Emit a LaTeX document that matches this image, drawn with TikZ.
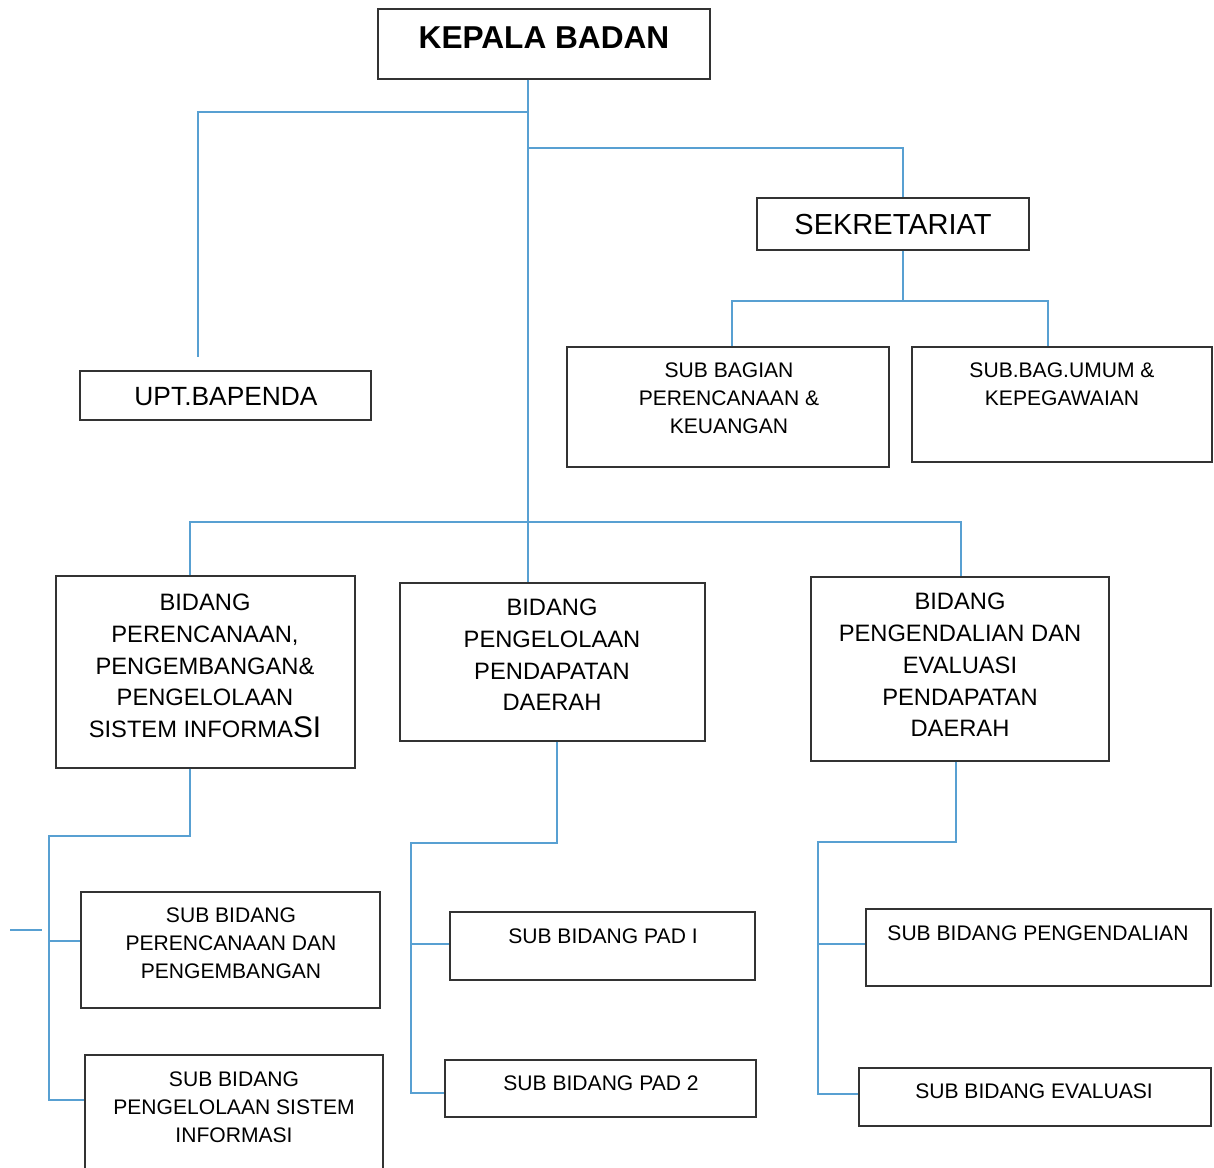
\documentclass[tikz,border=0pt]{standalone}
\usepackage{fontspec}
\setmainfont{Liberation Sans}
\usetikzlibrary{fit}

\definecolor{lineblue}{RGB}{88,160,210}
\newcommand\fhead{\fontsize{18}{22}\selectfont\bfseries}
\newcommand\fsek{\fontsize{16.5}{20}\selectfont}
\newcommand\fupt{\fontsize{15}{18}\selectfont}
\newcommand\fbid{\fontsize{13.5}{18.1}\selectfont}
\newcommand\fsub{\fontsize{12}{15.9}\selectfont}

\tikzset{
  box/.style={draw=black!80, line width=0.8pt, inner sep=0pt},
  link/.style={draw=lineblue, line width=1.1pt},
  lbl/.style={align=center, inner sep=0pt},
}

\begin{document}
\begin{tikzpicture}[x=0.02cm, y=-0.02cm]
\useasboundingbox (0,0) rectangle (1214,1168);
\clip (0,0) rectangle (1214,1168);

% Boxes
\node[box, fit={(378,9) (710,79)}] (kepala) {};
\node[box, fit={(757,198) (1029,250)}] (sekr) {};
\node[box, fit={(80,371) (371,420)}] (upt) {};
\node[box, fit={(567,347) (889,467)}] (sbperen) {};
\node[box, fit={(912,347) (1212,462)}] (sbumum) {};
\node[box, fit={(56,576) (355,768)}] (bperen) {};
\node[box, fit={(400,583) (705,741)}] (bpend) {};
\node[box, fit={(811,577) (1109,761)}] (bkend) {};
\node[box, fit={(81,892) (380,1008)}] (sbrenc) {};
\node[box, fit={(85,1055) (383,1185)}] (sbsis) {};
\node[box, fit={(450,912) (755,980)}] (pad1) {};
\node[box, fit={(445,1060) (756,1117)}] (pad2) {};
\node[box, fit={(866,909) (1211,986)}] (sbpeng) {};
\node[box, fit={(859,1068) (1211,1126)}] (sbeval) {};

% Labels
\node[lbl, font=\fhead] (kepala-t) at (544,38) {KEPALA BADAN};
\node[lbl, font=\fsek] (sekr-t) at (893,225) {SEKRETARIAT};
\node[lbl, font=\fupt] (upt-t) at (226,397) {UPT.BAPENDA};
\node[lbl, font=\fsub] (sbperen-t) at (729,398) {SUB BAGIAN\\PERENCANAAN \&\\KEUANGAN};
\node[lbl, font=\fsub] (sbumum-t) at (1062,384) {SUB.BAG.UMUM \&\\KEPEGAWAIAN};
\node[lbl, font=\fbid] (bperen-t) at (205,666) {BIDANG\\PERENCANAAN,\\PENGEMBANGAN\&\\PENGELOLAAN\\SISTEM INFORMA{\fontsize{17}{20}\selectfont SI}};
\node[lbl, font=\fbid] (bpend-t) at (552,655) {BIDANG\\PENGELOLAAN\\PENDAPATAN\\DAERAH};
\node[lbl, font=\fbid] (bkend-t) at (960,665) {BIDANG\\PENGENDALIAN DAN\\EVALUASI\\PENDAPATAN\\DAERAH};
\node[lbl, font=\fsub] (sbrenc-t) at (231,943) {SUB BIDANG\\PERENCANAAN DAN\\PENGEMBANGAN};
\node[lbl, font=\fsub] (sbsis-t) at (234,1107) {SUB BIDANG\\PENGELOLAAN SISTEM\\INFORMASI};
\node[lbl, font=\fsub] (pad1-t) at (603,936) {SUB BIDANG PAD I};
\node[lbl, font=\fsub] (pad2-t) at (601,1083) {SUB BIDANG PAD 2};
\node[lbl, font=\fsub] (sbpeng-t) at (1038,933) {SUB BIDANG PENGENDALIAN};
\node[lbl, font=\fsub] (sbeval-t) at (1034,1091) {SUB BIDANG EVALUASI};

% Junctions
\coordinate (t1) at (528,112);
\coordinate (t2) at (528,148);
\coordinate (u1) at (198,112);
\coordinate (s1) at (903,148);
\coordinate (s2) at (903,301);
\coordinate (s3) at (732,301);
\coordinate (s4) at (1048,301);
\coordinate (b1) at (190,522);
\coordinate (b2) at (961,522);
\coordinate (l1) at (190,836);
\coordinate (l2) at (49,836);
\coordinate (l3) at (49,1100);
\coordinate (l4) at (49,941);
\coordinate (stub) at (10,930);
\coordinate (m1) at (557,843);
\coordinate (m2) at (411,843);
\coordinate (m3) at (411,1093);
\coordinate (m4) at (411,944);
\coordinate (r1) at (956,842);
\coordinate (r2) at (818,842);
\coordinate (r3) at (818,1094);
\coordinate (r4) at (818,944);

% Connectors
\draw[link] (kepala.south -| t1) -- (t1 |- bpend.north);
\draw[link, shorten >=0.26cm] (t1) -- (u1) -- (u1 |- upt.north);
\draw[link] (t2) -- (s1) -- (s1 |- sekr.north);
\draw[link] (sekr.south -| s2) -- (s2);
\draw[link] (s3 |- sbperen.north) -- (s3) -- (s4) -- (s4 |- sbumum.north);
\draw[link] (b1 |- bperen.north) -- (b1) -- (b2) -- (b2 |- bkend.north);
% left group
\draw[link] (bperen.south -| l1) -- (l1) -- (l2) -- (l3) -- (l3 -| sbsis.west);
\draw[link] (l4) -- (l4 -| sbrenc.west);
\draw[link] (stub) -- ++(32,0);
% middle group
\draw[link] (bpend.south -| m1) -- (m1) -- (m2) -- (m3) -- (m3 -| pad2.west);
\draw[link] (m4) -- (m4 -| pad1.west);
% right group
\draw[link] (bkend.south -| r1) -- (r1) -- (r2) -- (r3) -- (r3 -| sbeval.west);
\draw[link] (r4) -- (r4 -| sbpeng.west);
\end{tikzpicture}
\end{document}
